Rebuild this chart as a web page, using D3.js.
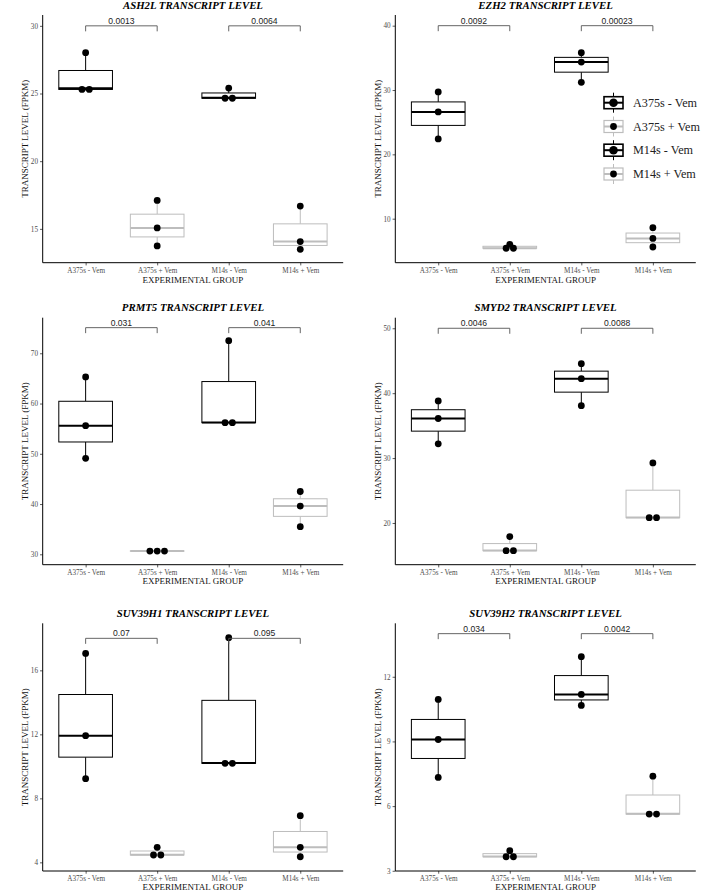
<!DOCTYPE html>
<html><head><meta charset="utf-8">
<script src="https://cdn.jsdelivr.net/npm/d3@7/dist/d3.min.js"></script>
<style>
html,body{margin:0;padding:0;background:#fff;}
svg{display:block;}
</style></head>
<body>
<svg id="chart" width="717" height="891"></svg>
<script>
// ---------- DATA ----------
const groups = ["A375s - Vem", "A375s + Vem", "M14s - Vem", "M14s + Vem"];
const genes = ["ASH2L", "EZH2", "PRMT5", "SMYD2", "SUV39H1", "SUV39H2"];

const ash2l   = [[25.22, 25.38, 28.02], [13.74, 15.07, 17.10], [24.62, 24.68, 25.40], [13.49, 14.06, 16.68]];
const ezh2    = [[22.40, 26.60, 29.70], [5.39, 5.42, 6.00], [31.20, 34.35, 35.80], [5.60, 6.94, 8.60]];
const prmt5   = [[49.10, 55.60, 65.30], [30.60, 30.65, 30.70], [56.15, 56.25, 72.50], [35.50, 39.60, 42.50]];
const smyd2   = [[32.20, 36.10, 38.80], [15.70, 15.75, 17.90], [38.08, 42.24, 44.55], [20.78, 20.85, 29.25]];
const suv39h1 = [[9.23, 11.92, 17.06], [4.44, 4.48, 4.94], [10.17, 10.21, 18.04], [4.35, 4.94, 6.92]];
const suv39h2 = [[7.33, 9.09, 10.95], [3.64, 3.66, 3.93], [10.67, 11.18, 12.93], [5.62, 5.64, 7.39]];
const values = [ash2l, ezh2, prmt5, smyd2, suv39h1, suv39h2];

const pvalues = [["0.0013", "0.0064"], ["0.0092", "0.00023"], ["0.031", "0.041"],
                 ["0.0046", "0.0088"], ["0.07", "0.095"], ["0.034", "0.0042"]];
const bracketY = [30, 40, 75.1, 50, 18, 14];
const yDomains = [[12.5, 30.8], [3.16, 41.66], [27.93, 77.08], [13.57, 51.63], [3.46, 18.94], [2.99, 14.48]];
const yTicks = [[15, 20, 25, 30], [10, 20, 30, 40], [30, 40, 50, 60, 70], [20, 30, 40, 50], [4, 8, 12, 16], [3, 6, 9, 12]];

// ---------- LAYOUT ----------
const colLeft = [42.7, 395.3];
const plotW = 300.5;
const rowTop = [15, 317.7, 623.3];
const rowBottom = [262.7, 564.7, 871];
const xTitleOffset = [20, 19.5, 18.6];

const SERIF = "'Liberation Serif','Times New Roman',serif";
const SANS = "'Liberation Sans',Arial,sans-serif";
const DARK = "#000";
const GRAY = "#BDBDBD";
const boxColor = i => (i % 2 === 0 ? DARK : GRAY);

const svg = d3.select("#chart");

function quart(arr) {
  const s = arr.slice().sort(d3.ascending);
  return {min: s[0], q1: d3.quantile(s, 0.25), med: d3.quantile(s, 0.5), q3: d3.quantile(s, 0.75), max: s[s.length - 1]};
}

genes.forEach((gene, gi) => {
  const col = gi % 2, row = Math.floor(gi / 2);
  const left = colLeft[col], right = left + plotW;
  const top = rowTop[row], bottom = rowBottom[row];

  // ggplot-like: discrete expansion 0.6 units each side
  const xs = d3.scalePoint().domain(groups).range([left + plotW * 0.6 / 4.2, right - plotW * 0.6 / 4.2]);
  const step = plotW / 4.2;
  const boxW = step * 0.75;
  const y = d3.scaleLinear().domain(yDomains[gi]).range([bottom, top]);

  const g = svg.append("g");

  // Axes
  const yAxis = d3.axisLeft(y).tickValues(yTicks[gi]).tickSize(2.7).tickPadding(2);
  const ya = g.append("g").attr("transform", `translate(${left},0)`).call(yAxis);
  const xAxis = d3.axisBottom(xs).tickSize(2.7).tickPadding(2.5);
  const xa = g.append("g").attr("transform", `translate(0,${bottom})`).call(xAxis);
  [ya, xa].forEach(a => {
    a.select(".domain").remove();
    a.selectAll(".tick line").attr("stroke", "#333").attr("stroke-width", 0.8);
    a.selectAll(".tick text").attr("fill", "#4D4D4D").style("font-family", SERIF).style("font-size", "7.2px");
  });
  g.append("line").attr("x1", left).attr("x2", left).attr("y1", top).attr("y2", bottom)
    .attr("stroke", "#000").attr("stroke-width", 1);
  g.append("line").attr("x1", left).attr("x2", right).attr("y1", bottom).attr("y2", bottom)
    .attr("stroke", "#000").attr("stroke-width", 1);

  // Titles
  g.append("text").attr("x", (left + right) / 2).attr("y", top - 6.3).attr("text-anchor", "middle")
    .style("font-family", SERIF).style("font-size", "10.8px").style("font-weight", "bold").style("font-style", "italic")
    .text(gene + " TRANSCRIPT LEVEL");
  g.append("text").attr("x", (left + right) / 2).attr("y", bottom + xTitleOffset[row]).attr("text-anchor", "middle")
    .style("font-family", SERIF).style("font-size", "9px").attr("fill", "#111").text("EXPERIMENTAL GROUP");
  g.append("text").attr("transform", `translate(${left - 14.5},${(top + bottom) / 2}) rotate(-90)`)
    .attr("text-anchor", "middle").style("font-family", SERIF).style("font-size", "9px").attr("fill", "#111")
    .text("TRANSCRIPT LEVEL (FPKM)");

  // Boxes
  values[gi].forEach((vals, i) => {
    const q = quart(vals);
    const cx = xs(groups[i]);
    const c = boxColor(i);
    const bg = g.append("g");
    bg.append("line").attr("x1", cx).attr("x2", cx).attr("y1", y(q.q3)).attr("y2", y(q.max)).attr("stroke", c).attr("stroke-width", 1);
    bg.append("line").attr("x1", cx).attr("x2", cx).attr("y1", y(q.q1)).attr("y2", y(q.min)).attr("stroke", c).attr("stroke-width", 1);
    bg.append("rect").attr("x", cx - boxW / 2).attr("width", boxW).attr("y", y(q.q3)).attr("height", Math.max(0, y(q.q1) - y(q.q3)))
      .attr("fill", "#fff").attr("stroke", c).attr("stroke-width", 1);
    bg.append("line").attr("x1", cx - boxW / 2).attr("x2", cx + boxW / 2).attr("y1", y(q.med)).attr("y2", y(q.med))
      .attr("stroke", c).attr("stroke-width", 2);

    // dots: centered dot-plot stacking of near-equal values
    const r = 3.4;
    const sorted = vals.slice().sort(d3.ascending);
    const bins = [];
    sorted.forEach(v => {
      const last = bins[bins.length - 1];
      if (last && Math.abs(y(v) - y(last[0])) < 3.5) last.push(v); else bins.push([v]);
    });
    bins.forEach(b => {
      const yy = y(d3.mean(b));
      b.forEach((v, k) => {
        g.append("circle").attr("cx", cx + (k - (b.length - 1) / 2) * 2.15 * r).attr("cy", yy).attr("r", r).attr("fill", "#000");
      });
    });
  });

  // Significance brackets
  [[0, 1], [2, 3]].forEach((pair, pi) => {
    const x1 = xs(groups[pair[0]]), x2 = xs(groups[pair[1]]);
    const by = y(bracketY[gi]);
    g.append("path").attr("d", `M${x1},${by + 5.5}V${by}H${x2}V${by + 5.5}`)
      .attr("fill", "none").attr("stroke", "#555").attr("stroke-width", 0.9);
    g.append("text").attr("x", (x1 + x2) / 2).attr("y", by - 2).attr("text-anchor", "middle")
      .style("font-family", SANS).style("font-size", "8.6px").attr("fill", "#222").text(pvalues[gi][pi]);
  });
});

// ---------- LEGEND (in EZH2 panel) ----------
const legendY = [102.7, 126.5, 150.2, 174];
const lg = svg.append("g");
groups.forEach((name, i) => {
  const cx = 613.5, cy = legendY[i];
  const c = boxColor(i);
  const big = i % 2 === 0;
  lg.append("line").attr("x1", cx).attr("x2", cx).attr("y1", cy - 10).attr("y2", cy + 10).attr("stroke", c).attr("stroke-width", 1);
  lg.append("rect").attr("x", cx - 9.5).attr("y", cy - 6).attr("width", 19).attr("height", 12)
    .attr("fill", "#fff").attr("stroke", c).attr("stroke-width", big ? 1.6 : 1.2);
  lg.append("line").attr("x1", cx - 9.5).attr("x2", cx + 9.5).attr("y1", cy).attr("y2", cy).attr("stroke", c).attr("stroke-width", 2);
  lg.append("circle").attr("cx", cx).attr("cy", cy).attr("r", big ? 4.3 : 3.4).attr("fill", "#000");
  lg.append("text").attr("x", 633).attr("y", cy + 4.2).style("font-family", SERIF).style("font-size", "12.2px")
    .attr("fill", "#222").text(name);
});
</script>
</body></html>
